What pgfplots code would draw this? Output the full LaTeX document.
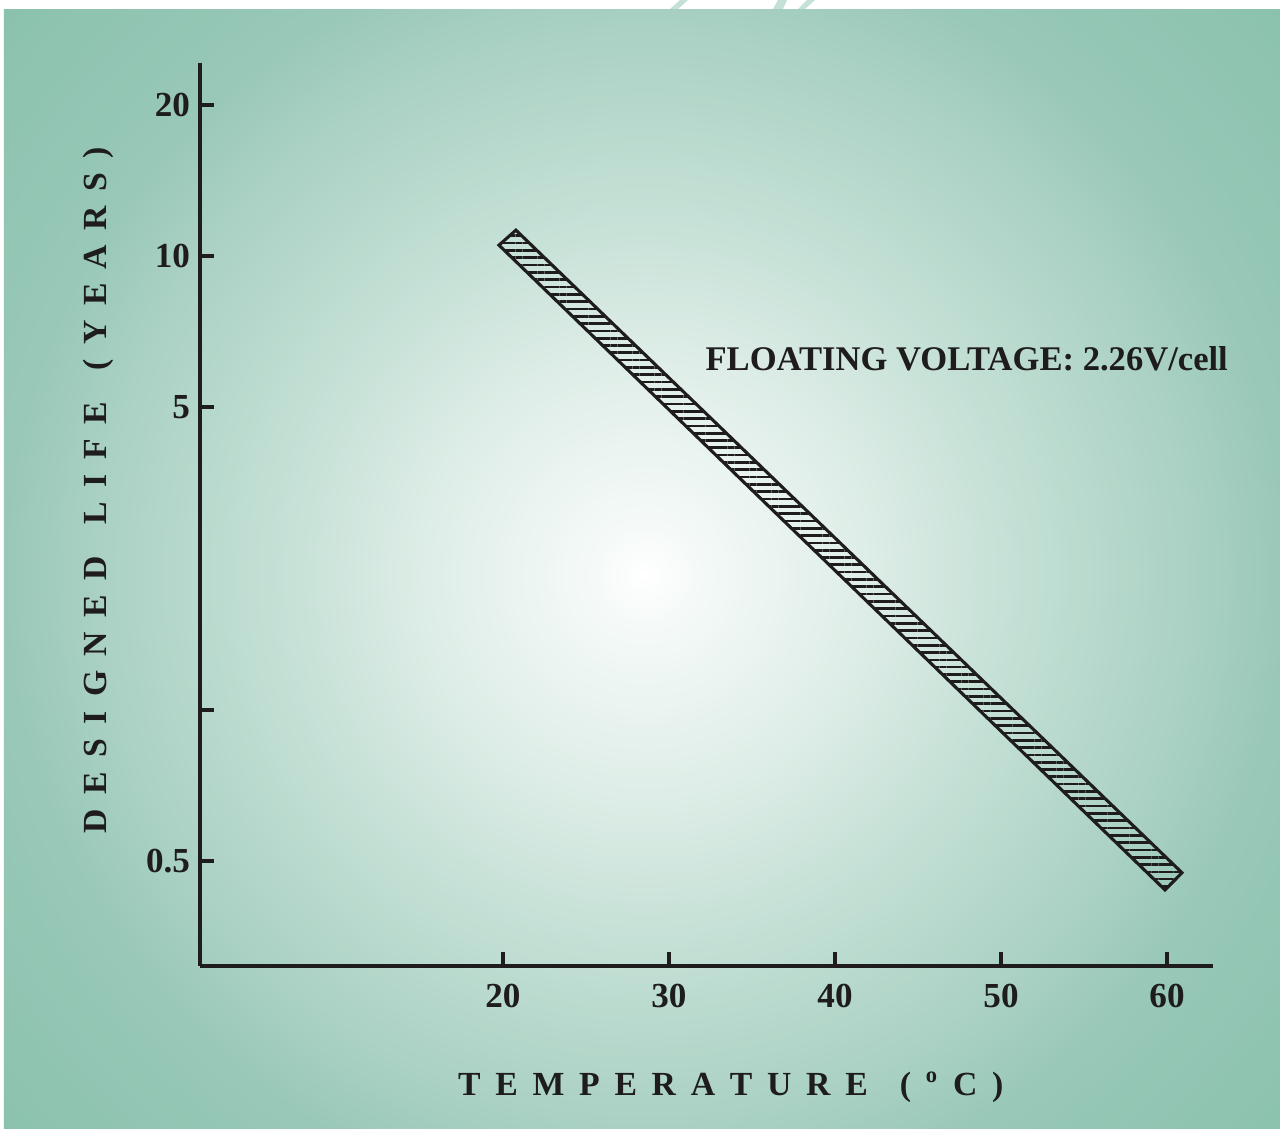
\documentclass[border=0pt]{standalone}
\usepackage{fontspec}
\setmainfont{Liberation Serif}
\usepackage{pgfplots}
\pgfplotsset{compat=1.18}
\usetikzlibrary{patterns.meta}

\definecolor{bgA}{RGB}{138,194,173}
\definecolor{bgB}{RGB}{153,200,184}
\definecolor{bgC}{RGB}{168,208,194}
\definecolor{bgD}{RGB}{200,226,216}
\definecolor{bgE}{RGB}{222,237,231}
\definecolor{bgF}{RGB}{245,250,248}
\definecolor{stripe}{RGB}{197,224,214}
\definecolor{ink}{RGB}{30,28,28}

% 25bp = radius of the 11cm circle below (880 px), so bp = px / 35.2
\pgfdeclareradialshading{bgglow}{\pgfpoint{0bp}{0bp}}{%
  color(0bp)=(white); color(1.42bp)=(bgF); color(6.25bp)=(bgE);
  color(9.8bp)=(bgD); color(15.9bp)=(bgC); color(18.2bp)=(bgB);
  color(24.4bp)=(bgA); color(50bp)=(bgA)}

\newcommand\gx{\hspace{0.184cm}}
\newcommand\Gx{\hspace{0.40cm}}
\newcommand\gy{\hspace{0.18cm}}
\newcommand\Gy{\hspace{0.40cm}}

\begin{document}
\begin{tikzpicture}
  % page and tinted panel
  \fill[white] (-2.5,-2.1125) rectangle (13.5,12.075);
  \fill[stripe] (5.875,11.9625) -- (5.975,11.9625) -- (6.1,12.075) -- (6.0,12.075) -- cycle;
  \fill[stripe] (7.1625,11.9625) -- (7.2875,11.9625) -- (7.3375,12.075) -- (7.225,12.075) -- cycle;
  \fill[stripe] (7.475,11.9625) -- (7.5625,11.9625) -- (7.6875,12.075) -- (7.5875,12.075) -- cycle;
  \begin{scope}
    \clip (-2.45,-2.025) rectangle (13.5,11.9625);
    \shade[shading=bgglow] (5.5625,4.8875) circle[radius=11cm];
  \end{scope}

  \begin{axis}[
    at={(0,0)}, anchor=south west,
    scale only axis,
    width=12.6625cm, height=11.2875cm,
    xmin=1.75, xmax=62.77,
    ymode=log, log basis y=2,
    ymin=0.386, ymax=24.25,
    axis lines=left,
    axis line style={-, line width=1.1pt, ink},
    xtick={20,30,40,50,60},
    ytick={0.625,1.25,5,10,20},
    yticklabels={0.5,{},5,10,20},
    yminorticks=false,
    tick align=inside,
    major tick length=0.18cm,
    tick style={line width=1.5pt, ink},
    /pgf/number format/assume math mode=true,
    ticklabel style={font=\bfseries\fontsize{12.5}{15}\selectfont, text=ink},
    xticklabel style={yshift=-0.1cm},
    xlabel={T\gx E\gx M\gx P\gx E\gx R\gx A\gx T\gx U\gx R\gx E\Gx(\gx\textsuperscript{o}\gx C\gx)},
    ylabel={D\gy E\gy S\gy I\gy G\gy N\gy E\gy D\Gy L\gy I\gy F\gy E\Gy(\gy Y\gy E\gy A\gy R\gy S\gy)},
    label style={font=\bfseries\fontsize{12}{14}\selectfont, text=ink},
    xlabel style={at={(axis description cs:0.524,-0.1429)}, anchor=base},
    ylabel style={at={(axis description cs:-0.1007,0.527)}, anchor=center, rotate=0},
    clip=false,
  ]
    % designed life band (hatched)
    \addplot[draw=ink, line width=1.1pt,
      pattern={Lines[angle=0,distance=2.6pt,line width=0.95pt]}, pattern color=ink]
      coordinates {(20.78,11.27) (60.90,0.592) (59.88,0.547) (19.76,10.52)} -- cycle;

    \node[anchor=base west, inner sep=0pt, font=\bfseries\fontsize{12.3}{15}\selectfont, text=ink]
      at (axis cs:32.17,5.93) {FLOATING VOLTAGE: 2.26V/cell};
  \end{axis}
\end{tikzpicture}
\end{document}
